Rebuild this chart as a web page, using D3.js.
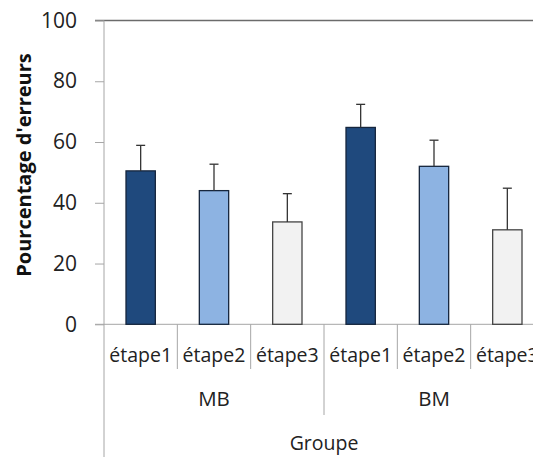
<!DOCTYPE html>
<html><head><meta charset="utf-8">
<script src="https://cdn.jsdelivr.net/npm/d3@7"></script>
<style>body{margin:0;background:#fff;}svg{display:block;}</style>
</head><body>
<svg id="c" width="533" height="457"></svg>
<script>
const groups = ["MB", "BM"];
const stages = ["étape1", "étape2", "étape3"];
const values = [50.5, 44.0, 33.7, 64.8, 52.0, 31.1];
const errTop = [58.9, 52.7, 43.0, 72.4, 60.6, 44.8];
const colors = ["#1F497D", "#8DB3E2", "#F2F2F2"];
const yTicks = [0, 20, 40, 60, 80, 100];
const yTitle = "Pourcentage d'erreurs";
const xTitle = "Groupe";

(function () {
const svg = d3.select("#c");
const pLeft = 104, pRight = 544, pTop = 20.5, pBottom = 324.3;
const cats = [];
groups.forEach((g, gi) => stages.forEach((s, si) => cats.push({g, s, si, i: gi * 3 + si})));

const x = d3.scaleBand().domain(cats.map(d => d.i)).range([pLeft, pRight]).paddingInner(0.6).paddingOuter(0.3);
const y = d3.scaleLinear().domain([0, 100]).range([pBottom, pTop]);
const axisCol = "#A6A6A6";

svg.append("line").attr("x1", 95).attr("x2", 533).attr("y1", y(100)).attr("y2", y(100))
  .attr("stroke", "#6b6b6b").attr("stroke-width", 1.3);

const ya = svg.append("g").attr("transform", `translate(${pLeft},0)`)
  .call(d3.axisLeft(y).tickValues(yTicks).tickSize(9).tickPadding(18));
ya.select(".domain").remove();
ya.selectAll(".tick line").attr("stroke", axisCol);
ya.selectAll(".tick text").attr("font-family", "Open Sans").attr("font-size", 21).attr("fill", "#222");
svg.append("line").attr("x1", pLeft).attr("x2", pLeft).attr("y1", y(100)).attr("y2", 457).attr("stroke", axisCol);

svg.append("line").attr("x1", 95).attr("x2", 533).attr("y1", pBottom).attr("y2", pBottom).attr("stroke", axisCol);

const catW = (pRight - pLeft) / cats.length;
for (let k = 1; k < cats.length; k++) {
  const xx = pLeft + k * catW;
  svg.append("line").attr("x1", xx).attr("x2", xx).attr("y1", pBottom).attr("y2", k % 3 === 0 ? 415 : 369).attr("stroke", axisCol);
}

svg.append("g").selectAll("rect").data(cats).join("rect")
  .attr("x", d => x(d.i)).attr("width", x.bandwidth())
  .attr("y", d => y(values[d.i])).attr("height", d => pBottom - y(values[d.i]))
  .attr("fill", d => colors[d.si])
  .attr("stroke", d => d.si === 2 ? "#444" : "#16263d").attr("stroke-width", 1.3);

const eg = svg.append("g").attr("stroke", "#333").attr("stroke-width", 1.3);
cats.forEach(d => {
  const cx = x(d.i) + x.bandwidth() / 2;
  eg.append("line").attr("x1", cx).attr("x2", cx).attr("y1", y(values[d.i])).attr("y2", y(errTop[d.i]));
  eg.append("line").attr("x1", cx - 4.5).attr("x2", cx + 4.5).attr("y1", y(errTop[d.i])).attr("y2", y(errTop[d.i]));
});

svg.append("g").selectAll("text").data(cats).join("text")
  .attr("x", d => pLeft + (d.i + 0.5) * catW).attr("y", 362)
  .attr("text-anchor", "middle").attr("font-family", "Open Sans").attr("font-size", 19.5).attr("fill", "#222")
  .text(d => d.s);
svg.append("g").selectAll("text").data(groups).join("text")
  .attr("x", (d, i) => pLeft + (i * 3 + 1.5) * catW).attr("y", 406)
  .attr("text-anchor", "middle").attr("font-family", "Open Sans").attr("font-size", 20.5).attr("fill", "#222")
  .text(d => d);
svg.append("text").attr("x", (pLeft + pRight) / 2).attr("y", 450)
  .attr("text-anchor", "middle").attr("font-family", "Open Sans").attr("font-size", 19.5).attr("fill", "#222")
  .text(xTitle);
svg.append("text").attr("transform", "translate(31,165) rotate(-90)")
  .attr("text-anchor", "middle").attr("font-family", "Open Sans").attr("font-weight", "bold").attr("font-size", 20).attr("fill", "#111")
  .text(yTitle);
})();
</script>
</body></html>
